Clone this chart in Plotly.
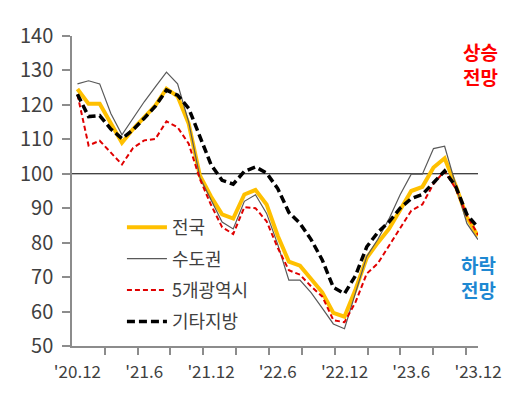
import plotly.graph_objects as go

months = list(range(37))
tick_pos = [0, 6, 12, 18, 24, 30, 36]
tick_text = ["'20.12", "'21.6", "'21.12", "'22.6", "'22.12", "'23.6", "'23.12"]

national = [124.6, 120.3, 120.3, 114.5, 109.0, 113.0, 116.5, 119.8, 124.7, 122.5,
            114.5, 99.5, 93.4, 88.2, 87.0, 94.0, 95.3, 91.1, 82.0, 74.5,
            73.3, 69.5, 65.6, 59.6, 58.5, 66.5, 75.6, 80.0, 84.0, 89.5,
            95.0, 96.2, 101.8, 104.5, 96.5, 87.4, 81.9]
capital = [126.1, 127.0, 126.1, 117.5, 111.3, 116.1, 120.9, 125.2, 129.5, 126.1,
           115.0, 99.0, 92.5, 86.0, 84.0, 92.0, 93.9, 88.5, 79.5, 69.1,
           69.1, 65.5, 61.0, 56.4, 55.0, 65.5, 76.0, 81.0, 86.9, 93.9,
           99.9, 99.9, 107.3, 108.0, 96.7, 85.6, 80.9]
metro5 = [123.0, 108.2, 109.6, 106.0, 102.7, 107.5, 109.7, 110.1, 115.2, 113.5,
          108.7, 98.5, 91.0, 84.5, 82.5, 90.3, 90.0, 86.2, 78.5, 72.0,
          70.7, 67.3, 64.4, 57.5, 56.9, 62.8, 71.0, 74.0, 79.1, 84.6,
          89.3, 91.1, 97.1, 100.8, 95.7, 87.9, 82.3]
other = [123.1, 116.6, 116.9, 113.0, 110.2, 112.8, 116.1, 119.6, 124.3, 122.8,
         119.0, 110.5, 102.7, 98.1, 97.0, 100.7, 102.0, 100.2, 95.7, 88.8,
         85.6, 80.9, 75.0, 67.0, 65.2, 70.5, 78.8, 83.0, 86.0, 90.0,
         92.8, 94.0, 97.5, 100.8, 96.3, 88.2, 84.4]

FONT = "Noto Sans CJK KR"
fig = go.Figure()
fig.add_trace(go.Scatter(x=months, y=national, name="전국", mode="lines",
                         line=dict(color="#FFC000", width=4), legendgroup="a"))
fig.add_trace(go.Scatter(x=months, y=capital, name="수도권", mode="lines",
                         line=dict(color="#595959", width=1.2), legendgroup="b"))
fig.add_trace(go.Scatter(x=months, y=metro5, name="5개광역시", mode="lines",
                         line=dict(color="#E00000", width=2, dash="5px,3px"), legendgroup="c"))
fig.add_trace(go.Scatter(x=months, y=other, name="기타지방", mode="lines",
                         line=dict(color="#000000", width=3.5, dash="8px,4px"), legendgroup="d"))

fig.add_hline(y=100, line=dict(color="black", width=1), layer="below")

fig.update_layout(
    width=522, height=387,
    margin=dict(l=64, r=52, t=16, b=47),
    paper_bgcolor="white", plot_bgcolor="white",
    font=dict(family=FONT, size=18, color="#404040"),
    showlegend=True,
    legend=dict(x=0.123, y=0.442, xanchor="left", yanchor="top",
                bgcolor="rgba(0,0,0,0)", font=dict(size=18, color="#404040"),
                tracegroupgap=5, itemwidth=40),
    xaxis=dict(range=[-0.49, 36.0], tickmode="array", tickvals=tick_pos, ticktext=tick_text,
               ticks="", showgrid=False, zeroline=False,
               showline=True, linecolor="#8C8C8C", linewidth=1.5,
               tickfont=dict(size=17, color="#404040"), ticklabelstandoff=10,
               minor=dict(tick0=-0.5, dtick=2.953, ticks="outside", ticklen=7,
                          tickcolor="#8C8C8C", tickwidth=1.5, showgrid=False)),
    yaxis=dict(range=[50, 140], tickmode="linear", tick0=50, dtick=10,
               ticks="outside", ticklen=8, tickcolor="#8C8C8C", tickwidth=1.5,
               showgrid=False, zeroline=False,
               showline=True, linecolor="#8C8C8C", linewidth=1.5,
               tickfont=dict(size=20, color="#404040"), ticklabelstandoff=5),
    annotations=[
        dict(text="<b>상승</b><br><b>전망</b>", x=1.007, y=0.91, xref="paper", yref="paper",
             xanchor="center", yanchor="middle",
             showarrow=False, font=dict(size=19, color="#FF0000", family=FONT), align="center"),
        dict(text="<b>하락</b><br><b>전망</b>", x=1.002, y=0.221, xref="paper", yref="paper",
             xanchor="center", yanchor="middle",
             showarrow=False, font=dict(size=19, color="#1E88D2", family=FONT), align="center"),
    ],
)

fig.write_html("out.html")
